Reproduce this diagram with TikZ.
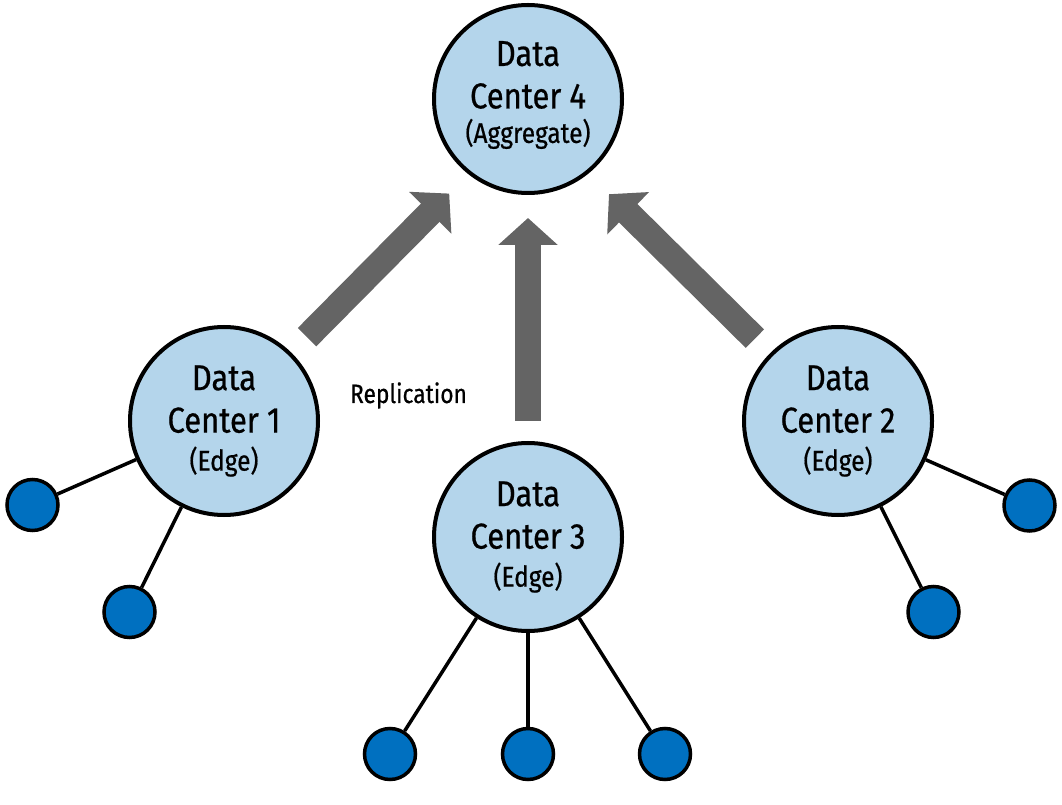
\documentclass[tikz,border=0pt]{standalone}
\usepackage{fontspec}
\setmainfont{Fira Sans}[FakeStretch=0.86,FakeBold=0.6]
\usetikzlibrary{arrows.meta}
\definecolor{dcfill}{HTML}{B4D5EB}
\definecolor{leaffill}{HTML}{0070C0}
\definecolor{flowgray}{HTML}{646464}
\newcommand{\dcsub}[1]{{\fontsize{28.5}{30}\selectfont #1}}

\begin{document}
\begin{tikzpicture}[x=1pt,y=1pt,
    dc/.style={circle,draw,line width=4pt,fill=dcfill,minimum size=188pt,inner sep=0pt,
      align=center,font=\fontsize{36}{42.5}\selectfont},
    leaf/.style={circle,draw,line width=3.5pt,fill=leaffill,minimum size=51pt,inner sep=0pt},
    wire/.style={line width=3.5pt},
    flow/.style={draw=flowgray,line width=26pt,-{Triangle[length=27pt,width=58pt]}}]

    \useasboundingbox (0,0) rectangle (1062,804);

    % Data centers
    \node[dc] (dc4) at (528,705) {Data\\Center 4\\[-8pt]\dcsub{(Aggregate)\rule[-14pt]{0pt}{0pt}}};
    \node[dc] (dc1) at (224,383) {Data\\Center 1\\[-4.5pt]\dcsub{(Edge)}};
    \node[dc] (dc2) at (838,383) {Data\\Center 2\\[-4.5pt]\dcsub{(Edge)}};
    \node[dc] (dc3) at (528,267) {Data\\Center 3\\[-4.5pt]\dcsub{(Edge)}};

    % Edge leaves
    \node[leaf] (d11) at (32.5,299) {};
    \node[leaf] (d12) at (129.5,192) {};
    \node[leaf] (d21) at (1029.5,298.5) {};
    \node[leaf] (d22) at (933.5,192) {};
    \node[leaf] (d31) at (390,50) {};
    \node[leaf] (d32) at (528,50) {};
    \node[leaf] (d33) at (665,50) {};

    \foreach \w in {d11,d12} {
      \draw[wire] (dc1) -- (\w);
    }
    \foreach \w in {d21,d22} {
      \draw[wire] (dc2) -- (\w);
    }
    \foreach \w in {d31,d32,d33} {
      \draw[wire] (dc3) -- (\w);
    }

    % Replication arrows
    \draw[flow,shorten <=22pt,shorten >=112pt] (dc1) -- ([yshift=-15pt]dc4.center);
    \draw[flow,shorten <=21pt,shorten >=114pt] (dc2) -- ([yshift=-15pt]dc4.center);
    \draw[flow,shorten <=20pt,shorten >=23pt] (dc3) -- (dc4);

    \node[font=\fontsize{26.5}{30}\selectfont,anchor=base] (repl) at (408.5,401) {Replication};

  \end{tikzpicture}
\end{document}
